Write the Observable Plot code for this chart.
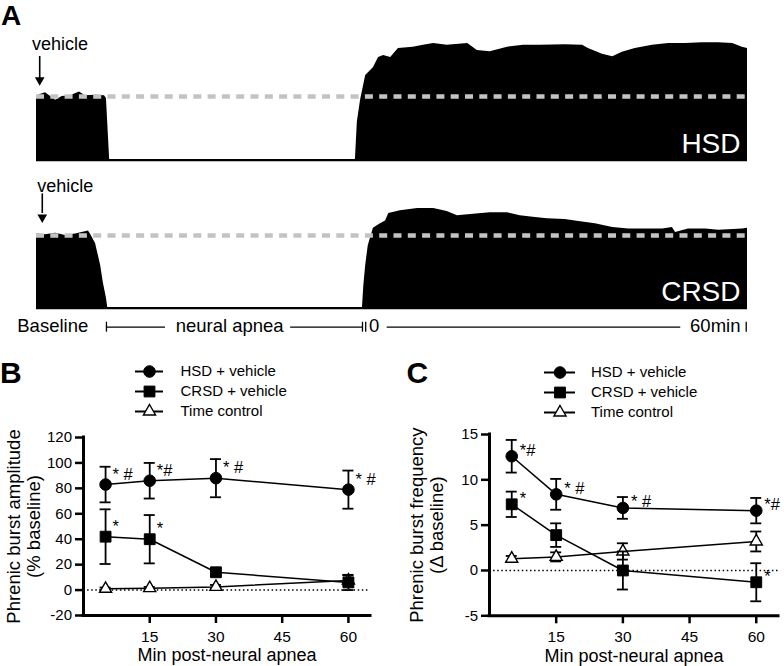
<!DOCTYPE html>
<html><head><meta charset="utf-8">
<script src="https://cdn.jsdelivr.net/npm/d3@7"></script>
<script src="https://cdn.jsdelivr.net/npm/@observablehq/plot@0.6"></script>
<style>
html,body{margin:0;padding:0;background:#fff;}
#fig{position:relative;width:784px;height:666px;overflow:hidden;font-family:"Liberation Sans",Arial,Helvetica,sans-serif;color:#000;}
.part{position:absolute;}
.letter{position:absolute;font-weight:bold;font-size:30px;line-height:30px;}
</style></head><body><div id="fig"></div>
<script>
// ---------- Panel A: integrated phrenic traces (envelope) ----------
// time axis: minutes relative to the end of neural apnea (baseline/apnea segment is a break)
const hsdTraceTime = [-50.8,-50.2,-49.4,-48.6,-47.8,-46.8,-45.5,-44.1,-43.2,-41.6,-40.2,-39.9,-39.4,-25.2,-9.7,-1.1,-0.8,-0.3,0.5,1.7,2.5,3.3,4.4,5.6,7.9,9.5,11.1,13.2,16.4,17.9,19.9,22.6,25.1,27.7,31.6,34.3,35.2,37.4,39.0,40.5,42.5,45.2,47.7,50.3,53.0,55.5,57.7,59.2,60];
const hsdTraceAmp  = [100,103,106,100,94,100,101,107,101,102,101,97,1.5,1.5,1.5,1.5,60,94,133,145,161,164,161,175,177,180,183,180,183,172,170,177,180,180,181,180,175,166,162,169,175,180,183,183,184,184,183,177,175];
const crsdTraceTime = [-50.8,-49.4,-47.8,-46.3,-44.7,-42.7,-42.4,-41.6,-40.8,-40.4,-39.9,-39.7,-25,-10,0,0.2,0.5,0.9,1.7,2.8,3.6,4.1,5.9,8.6,11.1,13.2,14.8,17.3,19.9,22.6,24.6,26.6,28.8,31.6,33.7,36.3,39.0,41.5,44.1,46.8,48.3,48.8,50.8,53.5,55.5,57.0,59.2,60];
const crsdTraceAmp  = [102,101,103,100,102,106,102,89,59,36,14,1.5,1.5,1.5,1.5,30,59,86,110,116,120,130,134,137,137,133,127,129,131,131,127,125,123,122,119,116,111,109,109,109,111,104,109,109,107,108,109,110];
const traceStart = -50.8, traceEnd = 60, baselineLevel = 100;

// ---------- Panels B & C ----------
const minutes = [5, 15, 30, 60];
const seriesNames = ["HSD + vehicle", "CRSD + vehicle", "Time control"];
const xTicks = [15, 30, 45, 60];

const ampHSD = [83, 86, 88, 79],   ampHSDErr = [14, 14, 15, 15];
const ampCRSD = [42, 40, 14, 6],   ampCRSDErr = [21.5, 19, 3, 6];
const ampTC = [1, 1.5, 2.5, 7.5],  ampTCErr = [1, 1, 1.5, 4];
const ampStarsHSD = ["* #", "*#", "* #", "* #"];
const ampStarsCRSD = ["*", "*", "", ""];
const ampStarsTC = ["", "", "", ""];
const ampTicks = [-20, 0, 20, 40, 60, 80, 100, 120];

const frqHSD = [12.6, 8.4, 6.9, 6.6],  frqHSDErr = [1.8, 1.7, 1.2, 1.4];
const frqCRSD = [7.3, 3.9, 0, -1.3],   frqCRSDErr = [1.4, 1.3, 2.1, 2.1];
const frqTC = [1.3, 1.5, 2.1, 3.2],    frqTCErr = [0.3, 0.5, 0.9, 1.1];
const frqStarsHSD = ["*#", "* #", "* #", "*#"];
const frqStarsCRSD = ["*", "", "", "*"];
const frqStarsTC = ["", "", "", ""];
const frqTicks = [-5, 0, 5, 10, 15];

// ---------- helpers ----------
const FONT = '"Liberation Sans", Arial, Helvetica, sans-serif';
const baseStyle = {fontFamily: FONT, fontSize: "15px", background: "transparent", overflow: "visible", color: "black"};
const fig = document.getElementById("fig");
function place(node, left, top) {
  const d = document.createElement("div");
  d.className = "part"; d.style.left = left + "px"; d.style.top = top + "px";
  d.appendChild(node); fig.appendChild(d);
}
function letter(txt, left, top, size) {
  const d = document.createElement("div");
  d.className = "letter"; d.textContent = txt;
  d.style.left = left + "px"; d.style.top = top + "px";
  d.style.fontSize = size + "px"; d.style.lineHeight = size + "px";
  fig.appendChild(d);
}
const markerStyle = {
  "HSD + vehicle":  {symbol: "circle",   fill: "black", stroke: "black", r: 5.8, strokeWidth: 1},
  "CRSD + vehicle": {symbol: "square",   fill: "black", stroke: "black", r: 6.1, strokeWidth: 1},
  "Time control":   {symbol: "triangle", fill: "white", stroke: "black", r: 4.5, strokeWidth: 1.4}
};
function rowsOf(name, vals, errs, stars) {
  return minutes.map((m, i) => ({series: name, x: m, v: vals[i], e: errs[i], star: stars[i]}));
}

// ---------- Panel A plots ----------
function tracePlot({time, amp, label, yMax, height, mt, mb, vehicleY, arrowTop, arrowShaftEnd, arrowHead, arrowX, vehicleX, timeline}) {
  const rows = time.map((t, i) => ({t, v: amp[i]}));
  const marks = [
    Plot.areaY(rows, {x: "t", y1: -1.5, y2: "v", fill: "black", curve: "linear"}),
    Plot.ruleY([0], {x1: traceStart, x2: traceEnd, stroke: "black", strokeWidth: 1.7}),
    Plot.ruleY([baselineLevel], {x1: traceStart, x2: traceEnd, stroke: "#c3c3c3", strokeWidth: 4.5, strokeDasharray: "8,6.3"}),
    Plot.text([label], {text: d => d, frameAnchor: "bottom-right", textAnchor: "end", lineAnchor: "bottom", dx: -7, dy: -8, fill: "white", fontSize: 28}),
    Plot.text(["vehicle"], {text: d => d, x: vehicleX, y: vehicleY, textAnchor: "start", lineAnchor: "bottom", fontSize: 18}),
    Plot.ruleX([arrowX], {y1: arrowTop, y2: arrowShaftEnd, strokeWidth: 1.6}),
    Plot.dot([arrowX], {x: d => d, y: arrowHead, symbol: "triangle", rotate: 180, r: 3.6, fill: "black", stroke: "none"})
  ];
  if (timeline) {
    const ty = -25.6, tt = -24.5;
    marks.push(
      Plot.text(["Baseline"], {text: d => d, x: -53.8, y: tt, textAnchor: "start", fontSize: 18.5}),
      Plot.text(["neural apnea"], {text: d => d, x: -20.7, y: tt, textAnchor: "middle", fontSize: 18.5}),
      Plot.text(["0"], {text: d => d, x: 1.8, y: tt, textAnchor: "middle", fontSize: 18.5}),
      Plot.text(["60min"], {text: d => d, x: 58.9, y: tt, textAnchor: "end", fontSize: 18.5}),
      Plot.ruleY([[-39.9, -30.7], [-11.2, 0], [3.85, 49.6]], {x1: d => d[0], x2: d => d[1], y: ty, strokeWidth: 1.3}),
      Plot.ruleX([-39.9, 0, 0.5, 59.8], {x: d => d, y1: -18.8, y2: -32.4, strokeWidth: 1.3})
    );
  }
  return Plot.plot({
    width: 784, height, marginLeft: 36, marginRight: 37, marginTop: mt, marginBottom: mb,
    x: {domain: [traceStart, traceEnd], axis: null},
    y: {domain: [0, yMax], axis: null},
    style: baseStyle,
    marks
  });
}
place(tracePlot({time: hsdTraceTime, amp: hsdTraceAmp, label: "HSD", yMax: 200, height: 172, mt: 32, mb: 12,
  vehicleX: -51.5, vehicleY: 171.9, arrowX: -50.3, arrowTop: 162.5, arrowShaftEnd: 128, arrowHead: 125.6, timeline: false}), 0, 0);
place(tracePlot({time: crsdTraceTime, amp: crsdTraceAmp, label: "CRSD", yMax: 189, height: 170, mt: 0, mb: 32,
  vehicleX: -50.7, vehicleY: 159.3, arrowX: -49.9, arrowTop: 157, arrowShaftEnd: 130, arrowHead: 124.8, timeline: true}), 0, 170);

// ---------- Panels B & C ----------
function panel({data, yDomain, yTicks, width, height, ml, mr, mt, mb, starDx, starDy, ylab1, ylab2, labDx1, labDx2}) {
  const order = ["Time control", "CRSD + vehicle", "HSD + vehicle"];
  const marks = [
    Plot.ruleY([0], {x1: 0, x2: 65, strokeDasharray: "1.5,2.6", strokeWidth: 1.4}),
    Plot.line(data, {x: "x", y: "v", z: "series", stroke: "black", strokeWidth: 1.5})
  ];
  for (const name of order) {
    const rs = data.filter(d => d.series === name);
    marks.push(
      Plot.ruleX(rs, {x: "x", y1: d => d.v - d.e, y2: d => d.v + d.e, strokeWidth: 1.8}),
      Plot.ruleY(rs, {x1: "x", x2: "x", y: d => d.v + d.e, insetLeft: -5.5, insetRight: -5.5, strokeWidth: 1.8}),
      Plot.ruleY(rs, {x1: "x", x2: "x", y: d => d.v - d.e, insetLeft: -5.5, insetRight: -5.5, strokeWidth: 1.8}),
      Plot.dot(rs, {x: "x", y: "v", ...markerStyle[name]})
    );
  }
  marks.push(
    Plot.text(data.filter(d => d.star), {x: "x", y: "v", text: "star", dx: starDx, dy: starDy, textAnchor: "start", fontSize: 16.5}),
    Plot.ruleX([0], {y1: yDomain[0], y2: yDomain[1], strokeWidth: 3, strokeLinecap: "square"}),
    Plot.ruleY([yDomain[0]], {x1: 0, x2: 65, strokeWidth: 3, strokeLinecap: "square"}),
    Plot.axisY({ticks: yTicks, tickSize: 8, tickPadding: 3.5, tickFormat: d => String(d), fontSize: 15, strokeWidth: 2.5, label: null}),
    Plot.axisX({ticks: xTicks, tickSize: 8, tickPadding: 7, tickFormat: d => String(d), fontSize: 15.5, strokeWidth: 2.5, label: null}),
    Plot.text(["Min post-neural apnea"], {text: d => d, frameAnchor: "bottom", textAnchor: "middle", lineAnchor: "middle", dy: 40, fontSize: 18}),
    Plot.text([ylab1], {text: d => d, frameAnchor: "left", rotate: -90, textAnchor: "middle", lineAnchor: "middle", dx: labDx1, fontSize: 18.5}),
    Plot.text([ylab2], {text: d => d, frameAnchor: "left", rotate: -90, textAnchor: "middle", lineAnchor: "middle", dx: labDx2, fontSize: 18.5})
  );
  return Plot.plot({
    width, height, marginLeft: ml, marginRight: mr, marginTop: mt, marginBottom: mb,
    x: {domain: [0, 65]}, y: {domain: yDomain},
    style: baseStyle, marks
  });
}
function legendPlot({width, height, ml, mr, mt, mb, textDx}) {
  const rows = seriesNames.map(n => ({series: n}));
  const marks = [Plot.ruleY(rows, {y: "series", x1: 0, x2: 1, strokeWidth: 2})];
  for (const name of seriesNames) {
    marks.push(Plot.dot(rows.filter(d => d.series === name), {x: 0.5, y: "series", ...markerStyle[name]}));
  }
  marks.push(Plot.text(rows, {x: 1, y: "series", text: "series", dx: textDx, textAnchor: "start", lineAnchor: "middle", fontSize: 15}));
  return Plot.plot({
    width, height, marginLeft: ml, marginRight: mr, marginTop: mt, marginBottom: mb,
    x: {domain: [0, 1], axis: null},
    y: {type: "point", domain: seriesNames, padding: 0, axis: null},
    style: baseStyle, marks
  });
}

const ampData = [
  ...rowsOf("HSD + vehicle", ampHSD, ampHSDErr, ampStarsHSD),
  ...rowsOf("CRSD + vehicle", ampCRSD, ampCRSDErr, ampStarsCRSD),
  ...rowsOf("Time control", ampTC, ampTCErr, ampStarsTC)
];
const frqData = [
  ...rowsOf("HSD + vehicle", frqHSD, frqHSDErr, frqStarsHSD),
  ...rowsOf("CRSD + vehicle", frqCRSD, frqCRSDErr, frqStarsCRSD),
  ...rowsOf("Time control", frqTC, frqTCErr, frqStarsTC)
];

place(legendPlot({width: 390, height: 72, ml: 135, mr: 227, mt: 16, mb: 16, textDx: 17}), 0, 355);
place(legendPlot({width: 394, height: 72, ml: 154, mr: 209, mt: 16.3, mb: 14.7, textDx: 15.5}), 390, 355);

place(panel({data: ampData, yDomain: [-20, 120], yTicks: ampTicks, width: 390, height: 241, ml: 83, mr: 20, mt: 12, mb: 51,
  starDx: 7, starDy: -10, ylab1: "Phrenic burst amplitude", ylab2: "(% baseline)", labDx1: -69.5, labDx2: -49}), 0, 425);
place(panel({data: frqData, yDomain: [-5, 15], yTicks: frqTicks, width: 394, height: 241, ml: 99, mr: 6, mt: 9, mb: 50.7,
  starDx: 8, starDy: -6, ylab1: "Phrenic burst frequency", ylab2: "(Δ baseline)", labDx1: -72.5, labDx2: -52}), 390, 425);

letter("A", 1, 1.7, 28);
letter("B", 0, 358, 30);
letter("C", 406.5, 358, 30);
</script></body></html>
